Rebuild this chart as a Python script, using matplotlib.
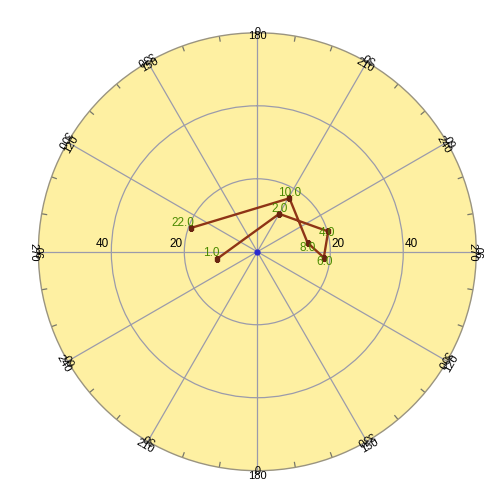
import matplotlib
matplotlib.use('Agg')
import matplotlib.pyplot as plt
import numpy as np

plt.rcParams['font.family'] = ['Liberation Sans', 'DejaVu Sans']

# data (compass angle in degrees, radius)
point_labels = ['1.0', '2.0', '4.0', '6.0', '8.0', '10.0', '22.0']
angles_deg = [260, 30, 74, 95, 80, 31, 290]
radii = [11.2, 12.0, 20.2, 18.3, 14.0, 17.1, 19.2]

spoke_angles = list(range(0, 360, 30))
ring_values = [20, 40]
r_max = 60

# label offsets in pixels (dx, dy up) for each point label
LABEL_OFFSETS = {
    '1.0': (-6, 5.5), '2.0': (0, 4.5), '4.0': (-1, -1.3), '6.0': (0.7, -4.3),
    '8.0': (0, -5), '10.0': (0, 5), '22.0': (-9, 5),
}

BG = '#fef0a2'
GRID = '#9b9bab'
LINE = '#8e3416'
GREEN = '#4a8a00'

fig = plt.figure(figsize=(5, 4.92), dpi=100)
ax = fig.add_axes([0.0766, 0.0433, 0.876, 0.890], projection='polar')
ax.set_theta_zero_location('N')
ax.set_theta_direction(-1)
ax.set_facecolor(BG)
ax.set_ylim(0, r_max)

ax.set_xticks(np.radians(spoke_angles))
ax.set_xticklabels([])
ax.tick_params(axis='x', which='major', length=0)
ax.set_yticks(ring_values)
ax.set_yticklabels([])
ax.tick_params(axis='y', length=0)
ax.grid(True, color=GRID, linewidth=0.9)
ax.spines['polar'].set_color('#9a9480')
ax.spines['polar'].set_linewidth(1.0)

px = r_max / 219.0

# small inward ticks on the rim every 10 degrees
for a in range(0, 360, 10):
    if a % 30:
        t = np.radians(a)
        ax.plot([t, t], [r_max - 5 * px, r_max], color='#77776a', linewidth=0.9)

# double angle labels round the rim
for a in spoke_angles:
    t = np.radians(a)
    ax.text(t, r_max + 5 * px, str(a), ha='center', va='center', fontsize=8,
            rotation=180 - a, rotation_mode='anchor', clip_on=False)
    ax.text(t, r_max - 3.5 * px, str((a + 180) % 360), ha='center', va='center', fontsize=8,
            rotation=-a, rotation_mode='anchor', clip_on=False)

# ring labels left and right
for rv in ring_values:
    ax.annotate(str(rv), xy=(np.radians(90), rv), xytext=(1, 1.5), textcoords='offset pixels',
                ha='left', va='bottom', fontsize=8.5)
    ax.annotate(str(rv), xy=(np.radians(270), rv), xytext=(-2, 1.5), textcoords='offset pixels',
                ha='right', va='bottom', fontsize=8.5)

theta = np.radians(angles_deg)
ax.plot(theta, radii, color=LINE, linewidth=1.7, zorder=4)
ax.plot(theta, radii, 's', color='#6a2410', markersize=2.5, zorder=5)
ax.plot([0], [0], 'o', color='#2a2ad0', markersize=3.5, zorder=5)

for lab, t, r in zip(point_labels, theta, radii):
    dx, dy = LABEL_OFFSETS[lab]
    ax.annotate(lab, xy=(t, r), xytext=(dx, dy), textcoords='offset pixels',
                ha='center', va='center', fontsize=8.5, color=GREEN, zorder=6)

ax.set_ylim(0, r_max)
fig.savefig('out.png', dpi=100)
